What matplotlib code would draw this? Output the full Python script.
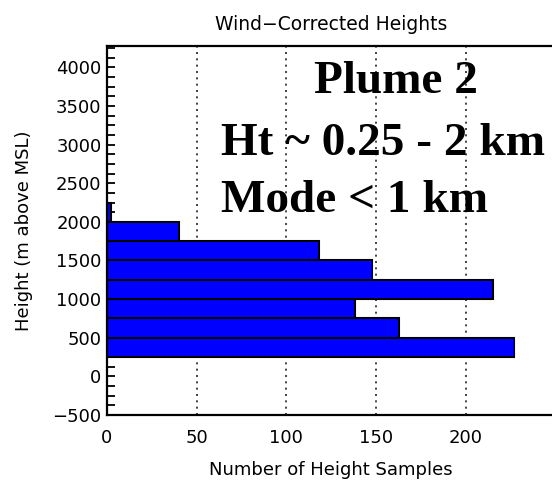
import matplotlib
matplotlib.use("Agg")
import matplotlib.pyplot as plt
from matplotlib.ticker import MultipleLocator

# histogram of wind-corrected heights (bin bottoms in m, counts)
bin_bottoms = [250, 500, 750, 1000, 1250, 1500, 1750, 2000]
counts = [227, 163, 138, 215, 148, 118, 40, 2]
bin_width = 250
x_ticks = [0, 50, 100, 150, 200]
grid_x = [50, 100, 150, 200]

fig = plt.figure(figsize=(5.52, 4.82), dpi=100)
# right edge of the frame falls just past the image, as in the original
ax = fig.add_axes([107 / 552, 67 / 482, 448.4 / 552, 369.3 / 482])

# dotted grid lines behind the bars
for gx in grid_x:
    ax.axvline(gx, color="#222222", lw=1.2, linestyle=(0, (1.2, 2.6)), zorder=1)

ax.barh(bin_bottoms, counts, height=bin_width, align="edge",
        color="#0000ff", edgecolor="black", linewidth=1.5, zorder=2)

ax.set_xlim(0, 250)
ax.set_ylim(-500, 4280)

# axes styling
for s in ax.spines.values():
    s.set_linewidth(1.6)
ax.set_xticks(x_ticks)
ax.tick_params(axis="x", length=0, pad=10, labelsize=13)
ax.yaxis.set_major_locator(MultipleLocator(500))
ax.yaxis.set_minor_locator(MultipleLocator(125))
ax.tick_params(axis="y", which="both", direction="in", length=6, width=1.3,
               pad=4, labelsize=13)

ax.set_xlabel("Number of Height Samples", fontsize=13, va="center")
ax.xaxis.set_label_coords(0.5, -0.149)
ax.set_ylabel("Height (m above MSL)", fontsize=13, va="center")
ax.yaxis.set_label_coords(-0.185, 0.5)

fig.text(331 / 552, 1 - 25 / 482, "Wind\u2212Corrected Heights",
         ha="center", va="center", fontsize=13.5)

# annotation block
serif = dict(family="Liberation Serif", weight="bold", size=34, va="baseline")
fig.text(314 / 552, 1 - 93 / 482, "Plume 2", **serif)
fig.text(221 / 552, 1 - 155 / 482, "Ht ~ 0.25 - 2 km", **serif)
fig.text(221 / 552, 1 - 212 / 482, "Mode < 1 km", **serif)

fig.savefig("out.png", dpi=100)
